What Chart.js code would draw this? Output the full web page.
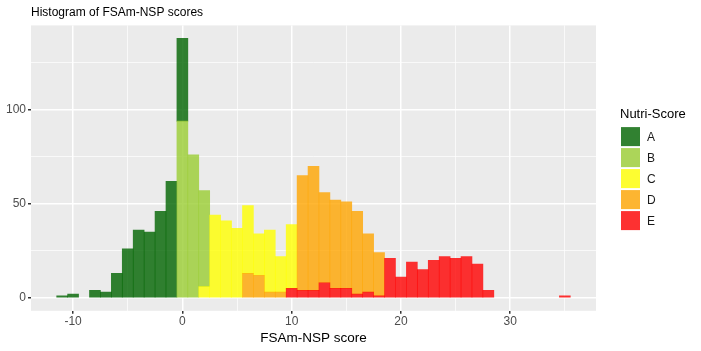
<!DOCTYPE html>
<html>
<head>
<meta charset="utf-8">
<title>Histogram of FSAm-NSP scores</title>
<script src="https://cdn.jsdelivr.net/npm/chart.js@4/dist/chart.umd.min.js"></script>
<style>
  html, body { margin: 0; padding: 0; background: #fff; }
</style>
</head>
<body>
<canvas id="histChart" width="701" height="351"></canvas>
<script>
// FSAm-NSP score bins (width 1, centred on integers)
const scores = [-11, -10, -9, -8, -7, -6, -5, -4, -3, -2, -1, 0, 1, 2, 3, 4, 5, 6, 7, 8, 9, 10,
                11, 12, 13, 14, 15, 16, 17, 18, 19, 20, 21, 22, 23, 24, 25, 26, 27, 28, 29, 30,
                31, 32, 33, 34, 35];

// counts per Nutri-Score grade, one value per bin above
const countsA = [1, 2, 0, 4, 3, 13, 26, 36, 35, 46, 62, 44, 0, 0, 0, 0, 0, 0, 0, 0, 0, 0,
                 0, 0, 0, 0, 0, 0, 0, 0, 0, 0, 0, 0, 0, 0, 0, 0, 0, 0, 0, 0, 0, 0, 0, 0, 0];
const countsB = [0, 0, 0, 0, 0, 0, 0, 0, 0, 0, 0, 94, 76, 51, 0, 0, 0, 0, 0, 0, 0, 0,
                 0, 0, 0, 0, 0, 0, 0, 0, 0, 0, 0, 0, 0, 0, 0, 0, 0, 0, 0, 0, 0, 0, 0, 0, 0];
const countsC = [0, 0, 0, 0, 0, 0, 0, 0, 0, 0, 0, 0, 0, 6, 44, 41, 37, 36, 22, 33, 19, 34,
                 0, 0, 0, 0, 0, 0, 0, 0, 0, 0, 0, 0, 0, 0, 0, 0, 0, 0, 0, 0, 0, 0, 0, 0, 0];
const countsD = [0, 0, 0, 0, 0, 0, 0, 0, 0, 0, 0, 0, 0, 0, 0, 0, 0, 13, 12, 3, 3, 0,
                 61, 66, 48, 47, 46, 44, 31, 23, 0, 0, 0, 0, 0, 0, 0, 0, 0, 0, 0, 0, 0, 0, 0, 0, 0];
const countsE = [0, 0, 0, 0, 0, 0, 0, 0, 0, 0, 0, 0, 0, 0, 0, 0, 0, 0, 0, 0, 0, 5,
                 4, 4, 8, 5, 5, 2, 3, 1, 21, 11, 19, 15, 20, 22, 21, 22, 18, 4, 0, 0, 0, 0, 0, 0, 1];

const grades = ['A', 'B', 'C', 'D', 'E'];
const gradeColors = ['rgba(0, 100, 0, 0.8)', 'rgba(154, 205, 50, 0.8)', 'rgba(255, 255, 0, 0.8)',
                     'rgba(255, 165, 0, 0.8)', 'rgba(255, 0, 0, 0.8)'];

const xLabels = [-10, 0, 10, 20, 30];
const yLabels = [0, 50, 100];

// empty bins are left out so no zero-height slivers get drawn
const toPoints = (counts) => scores
    .map((s, i) => ({ x: s, y: counts[i] }))
    .filter((p) => p.y > 0);

// grey panel behind the bars, like ggplot's theme_grey
const panelBackground = {
    id: 'panelBackground',
    beforeDraw(chart) {
        const { ctx, chartArea } = chart;
        ctx.save();
        ctx.fillStyle = '#EBEBEB';
        ctx.fillRect(chartArea.left, chartArea.top, chartArea.right - chartArea.left, chartArea.bottom - chartArea.top);
        ctx.restore();
    }
};

// ggplot-style legend to the right of the panel
const sideLegend = {
    id: 'sideLegend',
    afterDraw(chart) {
        const { ctx, chartArea } = chart;
        const left = chartArea.right + 25;
        const top = (chartArea.top + chartArea.bottom) / 2 - 62;
        ctx.save();
        ctx.textBaseline = 'middle';
        ctx.textAlign = 'left';
        ctx.fillStyle = '#000';
        ctx.font = '13px "Liberation Sans"';
        ctx.fillText('Nutri-Score', left - 1, top + 8);
        ctx.font = '12px "Liberation Sans"';
        grades.forEach((g, i) => {
            const y = top + 21 + i * 21;
            ctx.fillStyle = '#F2F2F2';
            ctx.fillRect(left, y, 19, 19);
            ctx.fillStyle = gradeColors[i];
            ctx.fillRect(left, y, 19, 19);
            ctx.fillStyle = '#1A1A1A';
            ctx.fillText(g, left + 26, y + 11);
        });
        ctx.restore();
    }
};

const barStyle = { barPercentage: 1, categoryPercentage: 1, borderWidth: 0 };

// E first so it sits at the bottom of the stack, A on top
const histData = {
    datasets: [
        { label: 'E', data: toPoints(countsE), backgroundColor: gradeColors[4], ...barStyle },
        { label: 'D', data: toPoints(countsD), backgroundColor: gradeColors[3], ...barStyle },
        { label: 'C', data: toPoints(countsC), backgroundColor: gradeColors[2], ...barStyle },
        { label: 'B', data: toPoints(countsB), backgroundColor: gradeColors[1], ...barStyle },
        { label: 'A', data: toPoints(countsA), backgroundColor: gradeColors[0], ...barStyle }
    ]
};

const isMajor = (v, list) => list.includes(v);

const histConfig = {
    type: 'bar',
    data: histData,
    options: {
        responsive: false,
        animation: false,
        layout: { padding: { left: 4, right: 105, top: 3, bottom: 5 } },
        plugins: {
            tooltip: { enabled: false },
            legend: { display: false },
            title: {
                display: true,
                text: 'Histogram of FSAm-NSP scores',
                align: 'start',
                fullSize: false,
                color: '#000',
                font: { family: 'Liberation Sans', size: 12, weight: 'normal' },
                padding: { top: 2, bottom: 6 }
            }
        },
        scales: {
            x: {
                type: 'linear',
                stacked: true,
                offset: false,
                min: -13.85,
                max: 37.85,
                border: { display: false },
                grid: {
                    offset: false,
                    color: '#FFFFFF',
                    lineWidth: (c) => isMajor(c.tick.value, xLabels) ? 1.5 : 0.7,
                    tickColor: (c) => isMajor(c.tick.value, xLabels) ? '#333333' : 'rgba(0,0,0,0)',
                    tickLength: 3
                },
                ticks: {
                    stepSize: 5,
                    includeBounds: false,
                    maxRotation: 0,
                    autoSkip: false,
                    padding: 2,
                    color: '#4D4D4D',
                    font: { family: 'Liberation Sans', size: 12, lineHeight: 1 },
                    callback: (v) => isMajor(v, xLabels) ? v : ''
                },
                title: {
                    display: true,
                    text: 'FSAm-NSP score',
                    color: '#000',
                    font: { family: 'Liberation Sans', size: 13.5 },
                    padding: { top: 0, bottom: 0 }
                }
            },
            y: {
                stacked: true,
                min: -6.9,
                max: 144.9,
                border: { display: false },
                grid: {
                    color: '#FFFFFF',
                    lineWidth: (c) => isMajor(c.tick.value, yLabels) ? 1.5 : 0.7,
                    tickColor: (c) => isMajor(c.tick.value, yLabels) ? '#333333' : 'rgba(0,0,0,0)',
                    tickLength: 3
                },
                ticks: {
                    stepSize: 25,
                    includeBounds: false,
                    padding: 2,
                    color: '#4D4D4D',
                    font: { family: 'Liberation Sans', size: 12 },
                    callback: (v) => isMajor(v, yLabels) ? v : ''
                }
            }
        }
    },
    plugins: [panelBackground, sideLegend]
};

const histCtx = document.getElementById('histChart').getContext('2d');
const histChart = new Chart(histCtx, histConfig);
</script>
</body>
</html>
